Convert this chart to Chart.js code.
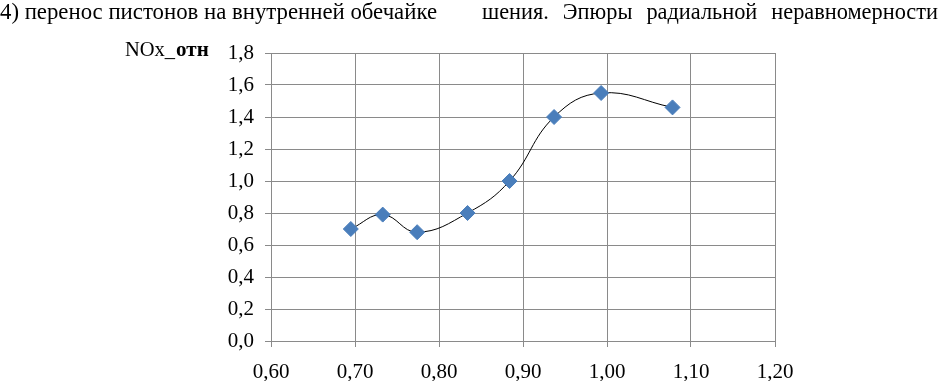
<!DOCTYPE html>
<html>
<head>
<meta charset="utf-8">
<script src="https://cdn.jsdelivr.net/npm/chart.js@4/dist/chart.umd.min.js"></script>
<style>
  html, body { margin: 0; padding: 0; background: #fff; }
  #wrap { width: 938px; height: 381px; }
</style>
</head>
<body>
<div id="wrap"><canvas id="myChart" width="938" height="381"></canvas></div>
<script>
// values
const xValues = [0.695, 0.733, 0.774, 0.834, 0.884, 0.937, 0.993, 1.078];
const yValues = [0.70, 0.79, 0.68, 0.80, 1.00, 1.40, 1.55, 1.46];
const xTickLabels = ["0,60", "0,70", "0,80", "0,90", "1,00", "1,10", "1,20"];
const yTickLabels = ["0,0", "0,2", "0,4", "0,6", "0,8", "1,0", "1,2", "1,4", "1,6", "1,8"];
const headLeft = "4) перенос пистонов на внутренней обечайке";
const headRight = "шения. Эпюры радиальной неравномерности";

const serif = "Liberation Serif, Times New Roman, serif";

const points = xValues.map((x, i) => ({ x: x, y: yValues[i] }));

const textPlugin = {
  id: "texts",
  afterDraw(chart) {
    const ctx = chart.ctx;
    ctx.save();
    ctx.fillStyle = "#000";
    ctx.textBaseline = "alphabetic";
    ctx.font = "24px " + serif;
    ctx.fillText(headLeft, 0, 19, 437);
    ctx.wordSpacing = "9px";
    ctx.fillText(headRight, 482, 19, 456);
    ctx.wordSpacing = "0px";
    // y axis title
    ctx.font = "20.5px " + serif;
    ctx.fillText("NOx_", 125, 56);
    const w = ctx.measureText("NOx_").width;
    ctx.font = "bold 21px " + serif;
    ctx.fillText("отн", 125 + w + 1, 56);
    ctx.restore();
  },
};

const ctx = document.getElementById("myChart").getContext("2d");
const myChart = new Chart(ctx, {
  type: "scatter",
  data: {
    datasets: [
      {
        data: points,
        showLine: true,
        borderColor: "#000",
        borderWidth: 1,
        tension: 0.42,
        pointStyle: "rectRot",
        pointRadius: 7.5,
        pointHoverRadius: 7.5,
        pointBackgroundColor: "#4a7ebb",
        pointBorderColor: "#4a7ebb",
        pointBorderWidth: 1,
      },
    ],
  },
  options: {
    responsive: false,
    animation: false,
    layout: { padding: { left: 0, right: 163, top: 53, bottom: 0 } },
    plugins: { legend: { display: false }, tooltip: { enabled: false } },
    scales: {
      x: {
        type: "linear",
        min: 0.6,
        max: 1.2,
        afterFit(scale) { scale.height = 40; },
        ticks: {
          stepSize: 0.1,
          color: "#000",
          font: { family: serif, size: 21 },
          padding: 13,
          maxRotation: 0,
          callback: (v, i) => xTickLabels[i],
        },
        grid: { color: "#8a8a8a", lineWidth: 1, tickLength: 6 },
        border: { color: "#8a8a8a" },
      },
      y: {
        min: 0,
        max: 1.8,
        afterFit(scale) { scale.width = 271; },
        ticks: {
          stepSize: 0.2,
          color: "#000",
          font: { family: serif, size: 21 },
          padding: 11,
          callback: (v, i) => yTickLabels[i],
        },
        grid: { color: "#8a8a8a", lineWidth: 1, tickLength: 6 },
        border: { color: "#8a8a8a" },
      },
    },
  },
  plugins: [textPlugin],
});
</script>
</body>
</html>
